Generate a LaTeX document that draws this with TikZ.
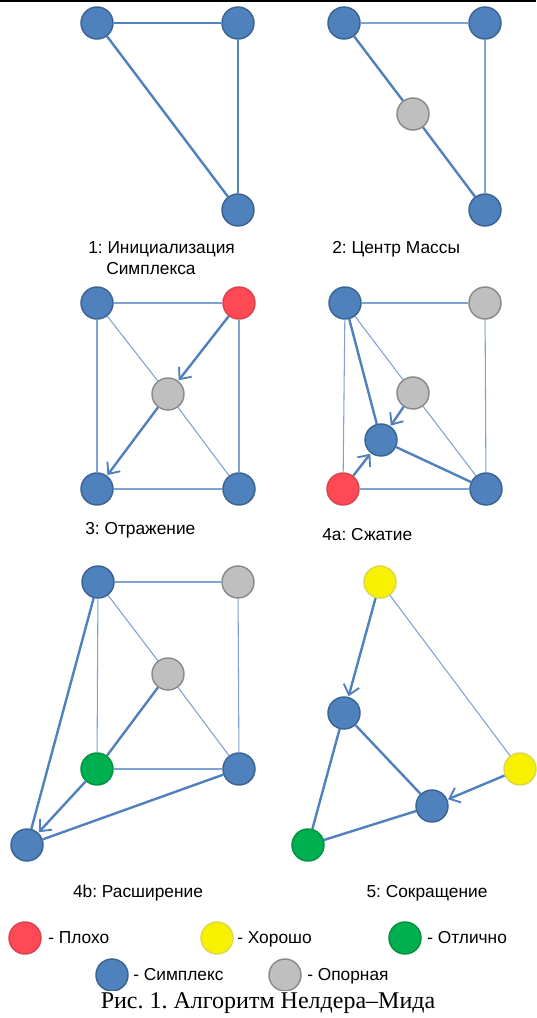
\documentclass[tikz,border=0pt]{standalone}
\usepackage{fontspec}
\setmainfont{Liberation Sans}
\newfontfamily\captionfont{Liberation Serif}
\usetikzlibrary{arrows.meta}
\frenchspacing
\definecolor{simplexfill}{HTML}{4F81BD}
\definecolor{simplexline}{HTML}{3A6491}
\definecolor{pivotfill}{HTML}{BFBFBF}
\definecolor{pivotline}{HTML}{8A8A8A}
\definecolor{badfill}{HTML}{FF4A55}
\definecolor{badline}{HTML}{D9444D}
\definecolor{goodfill}{HTML}{F7F000}
\definecolor{goodline}{HTML}{DCD84A}
\definecolor{bestfill}{HTML}{00B050}
\definecolor{bestline}{HTML}{00923F}
\definecolor{edgecol}{HTML}{4F81BD}
\definecolor{guidecol}{HTML}{7FA3D1}
\tikzset{
  vtx/.style={circle, minimum size=24pt, inner sep=0pt, line width=1.1pt},
  simplex/.style={vtx, fill=simplexfill, draw=simplexline},
  pivot/.style={vtx, fill=pivotfill, draw=pivotline},
  bad/.style={vtx, fill=badfill, draw=badline},
  good/.style={vtx, fill=goodfill, draw=goodline},
  best/.style={vtx, fill=bestfill, draw=bestline},
  edge/.style={draw=edgecol, line width=1.8pt},
  guide/.style={draw=guidecol, line width=0.8pt},
  move/.style={edge, -{Straight Barb[length=7pt,width=12pt,line width=1.4pt]}, shorten >=0.5pt},
  lbl/.style={font=\fontsize{13}{15}\selectfont, inner sep=0pt},
}
\begin{document}
\begin{tikzpicture}[x=0.75pt, y=-0.75pt]
\useasboundingbox (0,0) rectangle (536,1018);
\fill[white] (0,0) rectangle (536,1018);
\draw[black, line width=1.5pt] (0,1) -- (536,1);

% 1: initial simplex
\node[simplex] (a1) at (97,23) {};
\node[simplex] (b1) at (238,23) {};
\node[simplex] (c1) at (238,210) {};
\draw[edge] (a1) -- (b1);
\draw[edge] (b1) -- (c1);
\draw[edge] (a1) -- (c1);
\node[lbl, anchor=base west] (t1) at (88,253) {1: Инициализация};
\node[lbl, anchor=base west] (t1b) at (106,274) {Симплекса};

% 2: centroid
\node[simplex] (a2) at (344,23) {};
\node[simplex] (b2) at (485,23) {};
\node[simplex] (c2) at (485,210) {};
\node[pivot] (m2) at (413,114) {};
\draw[guide] (a2) -- (b2);
\draw[guide] (b2) -- (c2);
\draw[edge] (a2) -- (m2);
\draw[edge] (m2) -- (c2);
\node[lbl, anchor=base west] (t2) at (332,253) {2: Центр Массы};

% 3: reflection
\node[simplex] (a3) at (97,303) {};
\node[bad] (b3) at (239,303) {};
\node[pivot] (m3) at (168,394) {};
\node[simplex] (d3) at (97,489) {};
\node[simplex] (c3) at (239,489) {};
\draw[guide] (a3) -- (b3);
\draw[guide] (b3) -- (c3);
\draw[guide] (c3) -- (d3);
\draw[guide] (d3) -- (a3);
\draw[guide] (a3) -- (m3);
\draw[guide] (m3) -- (c3);
\draw[move] (b3) -- (m3);
\draw[move] (m3) -- (d3);
\node[lbl, anchor=base west] (t3) at (85,534) {3: Отражение};

% 4a: contraction
\node[simplex] (a4) at (345,303) {};
\node[pivot] (b4) at (485,303) {};
\node[pivot] (m4) at (413,393) {};
\node[simplex] (n4) at (381,440) {};
\node[bad] (d4) at (343,489) {};
\node[simplex] (c4) at (486,489) {};
\draw[guide] (a4) -- (b4);
\draw[guide] (b4) -- (c4);
\draw[guide] (c4) -- (d4);
\draw[guide] (d4) -- (a4);
\draw[guide] (a4) -- (m4);
\draw[guide] (m4) -- (c4);
\draw[edge] (a4) -- (n4);
\draw[edge] (n4) -- (c4);
\draw[move] (m4) -- (n4);
\draw[move] (d4) -- (n4);
\node[lbl, anchor=base west] (t4) at (322,540) {4a: Сжатие};

% 4b: expansion
\node[simplex] (a5) at (98,582) {};
\node[pivot] (b5) at (238,582) {};
\node[pivot] (m5) at (168,674) {};
\node[best] (d5) at (97,769) {};
\node[simplex] (c5) at (239,769) {};
\node[simplex] (e5) at (27,845) {};
\draw[guide] (a5) -- (b5);
\draw[guide] (b5) -- (c5);
\draw[guide] (c5) -- (d5);
\draw[guide] (d5) -- (a5);
\draw[guide] (a5) -- (m5);
\draw[guide] (m5) -- (c5);
\draw[edge] (m5) -- (d5);
\draw[edge] (a5) -- (e5);
\draw[edge] (c5) -- (e5);
\draw[move] (d5) -- (e5);
\node[lbl, anchor=base] (t5) at (138,897) {4b: Расширение};

% 5: shrink
\node[good] (a6) at (380,582) {};
\node[simplex] (p6) at (344,713) {};
\node[good] (b6) at (520,769) {};
\node[simplex] (q6) at (432,806) {};
\node[best] (g6) at (308,845) {};
\draw[guide] (a6) -- (b6);
\draw[edge] (p6) -- (q6);
\draw[edge] (p6) -- (g6);
\draw[edge] (g6) -- (q6);
\draw[move] (a6) -- (p6);
\draw[move] (b6) -- (q6);
\node[lbl, anchor=base] (t6) at (427,897) {5: Сокращение};

% legend
\begin{scope}
\clip (0,0) rectangle (536,990);
\node[bad] (kbad) at (25,938) {};
\node[good] (kgood) at (217,938) {};
\node[best] (kbest) at (405,938) {};
\node[simplex] (ksimplex) at (112,975) {};
\node[pivot] (kpivot) at (285,975) {};
\end{scope}
\node[lbl, anchor=base west] (lbad) at (48,943) {- Плохо};
\node[lbl, anchor=base west] (lgood) at (237,943) {- Хорошо};
\node[lbl, anchor=base west] (lbest) at (427,943) {- Отлично};
\node[lbl, anchor=base west] (lsimplex) at (133,980) {- Симплекс};
\node[lbl, anchor=base west] (lpivot) at (307,980) {- Опорная};

% caption
\node[font=\captionfont\fontsize{18}{20}\selectfont, anchor=base, inner sep=0pt] (cap) at (268,1008) {Рис. 1. Алгоритм Нелдера–Мида};
\end{tikzpicture}
\end{document}
